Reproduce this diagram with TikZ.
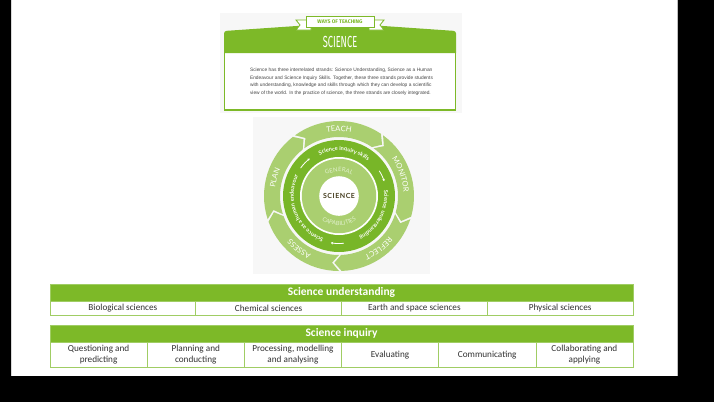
\documentclass[tikz,border=0pt]{standalone}
\usepackage{fontspec}
\setmainfont{Carlito}
\newfontfamily\latofont{Lato}
\newfontfamily\firafont{Fira Sans}
\newfontfamily\libfont{Liberation Sans}
\usetikzlibrary{decorations.text,arrows.meta}
\definecolor{hgreen}{RGB}{125,185,40}
\definecolor{lgreen}{RGB}{170,207,112}
\definecolor{dgreen}{RGB}{120,182,40}
\definecolor{bgreen}{RGB}{160,205,100}
\definecolor{txtgray}{RGB}{50,50,50}
\definecolor{bodygray}{RGB}{70,70,70}
\definecolor{olive}{RGB}{72,64,34}
\definecolor{paleg}{RGB}{225,240,205}
\newcommand\ringlabel[6]{%
  \path[decorate, decoration={text along path, text={|#1|#6}, text align=center, text color=#2}]
    (#4:#3) arc[start angle=#4, end angle=#5, radius=#3];}
\tikzset{
  hdr/.style={fill=hgreen, draw=bgreen, line width=0.6},
  cellbox/.style={draw=bgreen, line width=0.6, fill=white},
  celltext/.style={text=txtgray, font=\fontsize{9.2}{11}\selectfont, align=center, inner sep=0},
  hdrtext/.style={text=white, font=\bfseries\fontsize{11.5}{12}\selectfont, inner sep=0},
  arrw/.style={white, line width=0.8, -{Stealth[length=2.4pt,width=2.6pt]}}
}
\begin{document}
\begin{tikzpicture}[x=1pt,y=-1pt]
\useasboundingbox (0,0) rectangle (714,402);
\fill[black] (0,0) rectangle (714,402);
\fill[white] (11,0) rectangle (678,376);
\draw[black!25, line width=1] (677,0) -- (677,376);
\draw[black!15, line width=1] (11.5,0) -- (11.5,376);

% ---------- top box ----------
\fill[black!3] (220,13) rectangle (462,113);
\draw[hgreen, line width=1.3, fill=white] (224.6,50) rectangle (455.4,110);
\fill[hgreen] (224,53) [rounded corners=2.5] -- (224,31) -- (340,23) -- (456,31) [sharp corners] -- (456,53) -- cycle;
\node[text=white, inner sep=0] (sci) at (340,42) {\scalebox{0.58}[1]{\firafont\fontsize{16}{16}\selectfont SCIENCE}};
% ribbon
\filldraw[fill=white, draw=hgreen, line width=0.8] (311,20) -- (296,20) -- (300,25) -- (296,30) -- (311,30) -- cycle;
\filldraw[fill=white, draw=hgreen, line width=0.8] (369,20) -- (384,20) -- (380,25) -- (384,30) -- (369,30) -- cycle;
\filldraw[fill=white, draw=hgreen, line width=0.8] (306,16.5) rectangle (374,27.5);
\node[text=hgreen, inner sep=0] (ways) at (340,22) {\firafont\bfseries\fontsize{5.2}{6}\selectfont WAYS OF TEACHING};
\node[anchor=north, inner sep=0, align=left, text=bodygray, font=\libfont\fontsize{4.85}{7.5}\selectfont] (body) at (341.5,68) {%
Science has three interrelated strands: Science Understanding, Science as a Human\\
Endeavour and Science Inquiry Skills. Together, these three strands provide students\\
with understanding, knowledge and skills through which they can develop a scientific\\
view of the world. In the practice of science, the three strands are closely integrated.};

% ---------- circle ----------
\fill[black!3] (253,117) rectangle (430,274);
\begin{scope}[shift={(339,196)}, y=1pt]
  \foreach \s in {127,55,-17,-89,-161}{
    \pgfmathsetmacro\aa{\s-1}
    \pgfmathsetmacro\bb{\s-71}
    \pgfmathsetmacro\tp{\s-77}
    \pgfmathsetmacro\nt{\s-7}
    \fill[lgreen] (\aa:75) arc[start angle=\aa, end angle=\bb, radius=75] -- (\tp:67) -- (\bb:59)
      arc[start angle=\bb, end angle=\aa, radius=59] -- (\nt:67) -- cycle;
  }
  \ringlabel{\latofont\fontsize{7.5}{8}\selectfont}{white}{64.5}{120}{60}{TEACH}
  \ringlabel{\latofont\fontsize{7.5}{8}\selectfont}{white}{64.5}{49}{-11}{MONITOR}
  \ringlabel{\latofont\fontsize{7.5}{8}\selectfont}{white}{64.5}{-23}{-83}{REFLECT}
  \ringlabel{\latofont\fontsize{7.5}{8}\selectfont}{white}{64.5}{-97}{-157}{ASSESS}
  \ringlabel{\latofont\fontsize{7.5}{8}\selectfont}{white}{64.5}{194}{134}{PLAN}

  \fill[dgreen] (0,0) circle (56);
  \fill[white] (0,0) circle (39);
  \fill[lgreen] (0,0) circle (37.2);
  \fill[white] (0,0) circle (19.8);

  \ringlabel{\latofont\bfseries\fontsize{5.6}{6}\selectfont}{white}{45.3}{122}{44}{Science inquiry skills}
  \ringlabel{\latofont\bfseries\fontsize{5.6}{6}\selectfont}{white}{45.3}{13}{-69}{Science understanding}
  \ringlabel{\latofont\bfseries\fontsize{5.6}{6}\selectfont}{white}{45.3}{-102}{-214}{Science as a human endeavour}

  \draw[arrw] (144:47.5) arc[start angle=144, end angle=128, radius=47.5];
  \draw[arrw] (32:47.5) arc[start angle=32, end angle=18, radius=47.5];
  \draw[arrw] (-84:47.5) arc[start angle=-84, end angle=-100, radius=47.5];

  \ringlabel{\latofont\fontsize{6}{7}\selectfont}{paleg}{24.5}{130}{50}{GENERAL}
  \ringlabel{\latofont\fontsize{5.8}{7}\selectfont}{paleg}{29.5}{200}{340}{CAPABILITIES}

  \node[text=olive, inner sep=0] (ctr) at (0,0) {\latofont\bfseries\fontsize{7}{8}\selectfont\addfontfeature{LetterSpace=8}SCIENCE};
\end{scope}

% ---------- Science understanding table ----------
\filldraw[hdr] (50,284) rectangle (633,301);
\node[hdrtext] (su) at (341.5,292.5) {Science understanding};
\foreach \i/\t in {0/Biological sciences,1/Chemical sciences,2/Earth and space sciences,3/Physical sciences}{
  \draw[cellbox] ({50+\i*145.75},301) rectangle ({50+(\i+1)*145.75},315);
  \node[celltext] (su\i) at ({50+(\i+0.5)*145.75},308.3) {\t};
}

% ---------- Science inquiry table ----------
\filldraw[hdr] (50,325) rectangle (633,342);
\node[hdrtext] (si) at (341.5,333.5) {Science inquiry};
\foreach \i/\t in {0/{Questioning and\\predicting},1/{Planning and\\conducting},2/{Processing, modelling\\and analysing},3/{Evaluating},4/{Communicating},5/{Collaborating and\\applying}}{
  \draw[cellbox] ({50+\i*97.1667},342) rectangle ({50+(\i+1)*97.1667},367);
  \node[celltext] (si\i) at ({50+(\i+0.5)*97.1667},354.8) {\t};
}
\end{tikzpicture}
\end{document}
